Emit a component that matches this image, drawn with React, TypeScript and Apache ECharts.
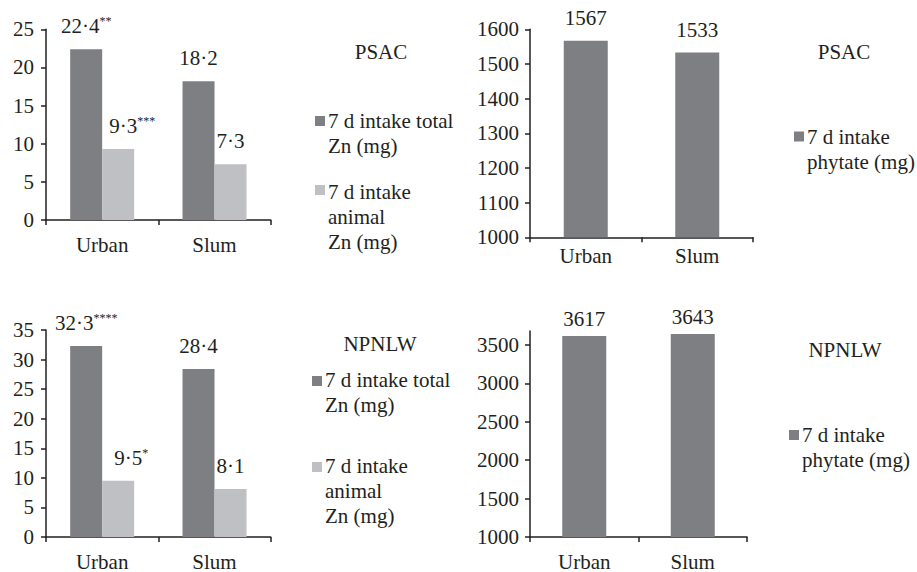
import React, { useEffect, useRef } from 'react';
import * as echarts from 'echarts';

const categories = ['Urban', 'Slum'];

const psacTotalZn = [22.4, 18.2];
const psacTotalSig = ['**', ''];
const psacAnimalZn = [9.3, 7.3];
const psacAnimalSig = ['***', ''];
const psacPhytate = [1567, 1533];
const psacPhytateSig = ['', ''];

const npnlwTotalZn = [32.3, 28.4];
const npnlwTotalSig = ['****', ''];
const npnlwAnimalZn = [9.5, 8.1];
const npnlwAnimalSig = ['*', ''];
const npnlwPhytate = [3617, 3643];
const npnlwPhytateSig = ['', ''];

const psacZnTicks = [0, 5, 10, 15, 20, 25];
const psacPhytateTicks = [1000, 1100, 1200, 1300, 1400, 1500, 1600];
const npnlwZnTicks = [0, 5, 10, 15, 20, 25, 30, 35];
const npnlwPhytateTicks = [1000, 1500, 2000, 2500, 3000, 3500];

const groupTitles = ['PSAC', 'NPNLW'];
const legendTotalZn = '7 d intake total\nZn (mg)';
const legendAnimalZn = '7 d intake\nanimal\nZn (mg)';
const legendPhytate = '7 d intake\nphytate (mg)';

const FONT = 'Liberation Serif';
const FS = 21;
const INK = '#231f20';
const DARK = '#7e7f83';
const LIGHT = '#bfc0c4';

function fmt(v: number, decimals: boolean) {
  return decimals ? v.toFixed(1).replace('.', '·') : String(v);
}

function barSeries(
  name: string,
  values: number[],
  sigs: string[],
  color: string,
  idx: number,
  barWidth: number,
  decimals: boolean,
  distance: number,
  shiftX: number[] = [0, 0]
) {
  return {
    type: 'bar',
    name,
    xAxisIndex: idx,
    yAxisIndex: idx,
    barWidth,
    barGap: '0%',
    data: values.map((v, i) => ({ value: v, label: { offset: [shiftX[i], 0] } })),
    itemStyle: { color },
    label: {
      show: true,
      position: 'top',
      distance,
      formatter: (p: any) =>
        `{v|${fmt(p.value, decimals)}}` + (sigs[p.dataIndex] ? `{s|${sigs[p.dataIndex]}}` : ''),
      rich: {
        v: { fontFamily: FONT, fontSize: FS, color: INK, lineHeight: 22 },
        s: { fontFamily: FONT, fontSize: 12, color: INK, lineHeight: 12, verticalAlign: 'top' },
      },
    },
  };
}

function xAxis(idx: number, margin: number) {
  return {
    type: 'category',
    gridIndex: idx,
    data: categories,
    axisLine: { lineStyle: { color: INK, width: 1.5 } },
    axisTick: { show: true, length: 5, lineStyle: { color: INK, width: 1.5 } },
    axisLabel: { fontFamily: FONT, fontSize: FS, color: INK, margin },
  };
}

function yAxis(idx: number, min: number, max: number, interval: number, ticks: number[], margin: number) {
  return {
    type: 'value',
    gridIndex: idx,
    min,
    max,
    interval,
    splitLine: { show: false },
    axisLine: { show: true, lineStyle: { color: INK, width: 1.5 } },
    axisTick: { show: true, length: 5, lineStyle: { color: INK, width: 1.5 }, customValues: ticks },
    axisLabel: {
      fontFamily: FONT,
      fontSize: FS,
      color: INK,
      margin,
      customValues: ticks,
      formatter: (v: number) => String(v),
    },
  };
}

function legendItem(x: number, squareCy: number, textTop: number, color: string, text: string) {
  return [
    { type: 'rect', shape: { x: x, y: squareCy - 5, width: 10, height: 10 }, style: { fill: color } },
    {
      type: 'text',
      x: x + 13,
      y: textTop,
      style: { text, fontFamily: FONT, fontSize: FS, fill: INK, lineHeight: 25, verticalAlign: 'top', align: 'left' },
    },
  ];
}

function title(cx: number, cy: number, text: string) {
  return {
    type: 'text',
    x: cx,
    y: cy,
    style: { text, fontFamily: FONT, fontSize: FS, fill: INK, align: 'center', verticalAlign: 'middle' },
  };
}

export default function App() {
  const ref = useRef<HTMLDivElement>(null);
  useEffect(() => {
    document.body.style.margin = '0';
    const chart = echarts.init(ref.current!, null, { renderer: 'svg' });
    chart.setOption({
      animation: false,
      backgroundColor: '#ffffff',
      textStyle: { fontFamily: FONT },
      grid: [
        { left: 46, top: 29.3, width: 224.7, height: 190.7 },
        { left: 530, top: 29.3, width: 223, height: 208 },
        { left: 46, top: 330, width: 224.7, height: 207 },
        { left: 530, top: 331, width: 217, height: 206 },
      ],
      xAxis: [xAxis(0, 14), xAxis(1, 8), xAxis(2, 14), xAxis(3, 14)],
      yAxis: [
        yAxis(0, 0, 25, 5, psacZnTicks, 12),
        yAxis(1, 1000, 1600, 100, psacPhytateTicks, 11),
        yAxis(2, 0, 35, 5, npnlwZnTicks, 12),
        yAxis(3, 1000, 3682, 500, npnlwPhytateTicks, 11),
      ],
      series: [
        barSeries('PSAC 7 d intake total Zn (mg)', psacTotalZn, psacTotalSig, DARK, 0, 32, true, 12),
        barSeries('PSAC 7 d intake animal Zn (mg)', psacAnimalZn, psacAnimalSig, LIGHT, 0, 32, true, 12, [14, 0]),
        barSeries('PSAC 7 d intake phytate (mg)', psacPhytate, psacPhytateSig, DARK, 1, 44, false, 12),
        barSeries('NPNLW 7 d intake total Zn (mg)', npnlwTotalZn, npnlwTotalSig, DARK, 2, 32, true, 12),
        barSeries('NPNLW 7 d intake animal Zn (mg)', npnlwAnimalZn, npnlwAnimalSig, LIGHT, 2, 32, true, 12, [13, 0]),
        barSeries('NPNLW 7 d intake phytate (mg)', npnlwPhytate, npnlwPhytateSig, DARK, 3, 44, false, 6),
      ],
      graphic: [
        title(381, 52, groupTitles[0]),
        ...legendItem(315, 121, 108.5, DARK, legendTotalZn),
        ...legendItem(315, 190, 179, LIGHT, legendAnimalZn),
        title(844, 52, groupTitles[0]),
        ...legendItem(794, 136.5, 124.5, DARK, legendPhytate),
        title(380, 344, groupTitles[1]),
        ...legendItem(312, 381, 367.5, DARK, legendTotalZn),
        ...legendItem(312, 467, 453.5, LIGHT, legendAnimalZn),
        title(845, 350, groupTitles[1]),
        ...legendItem(789, 435, 422.5, DARK, legendPhytate),
      ],
    });
    return () => chart.dispose();
  }, []);
  return <div ref={ref} style={{ width: 917, height: 572 }} />;
}
